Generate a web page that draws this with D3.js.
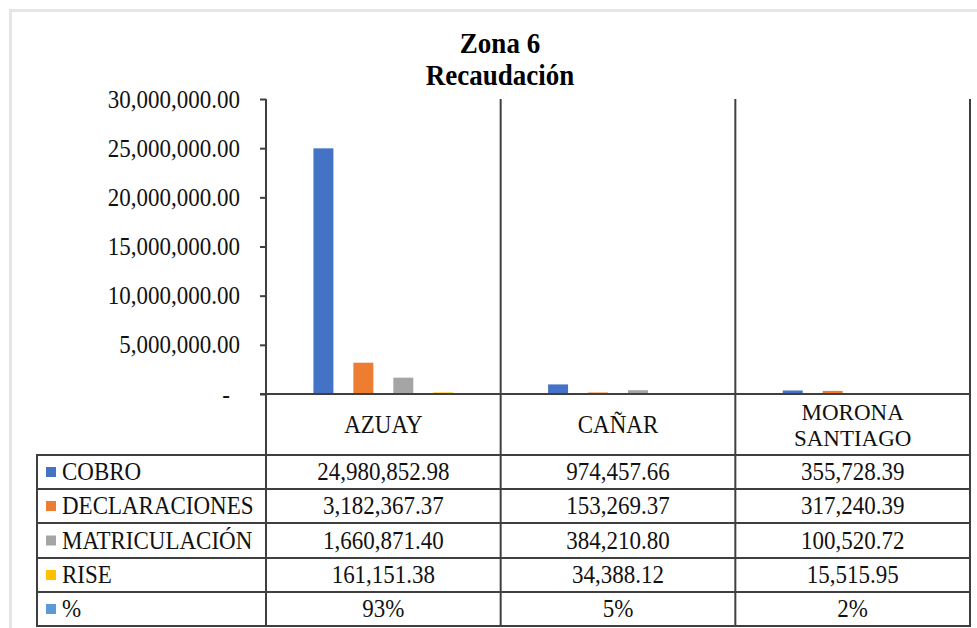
<!DOCTYPE html>
<html>
<head>
<meta charset="utf-8">
<script src="https://cdnjs.cloudflare.com/ajax/libs/d3/7.8.5/d3.min.js"></script>
<style>
	body{ margin:0; background:#fff; }
</style>
</head>
<body>
<svg id="chart" width="977" height="628"></svg>
<script>
//datos
var provincias = ["AZUAY", "CAÑAR", "MORONA SANTIAGO"];
var series = ["COBRO", "DECLARACIONES", "MATRICULACIÓN", "RISE"];
var cobro = [24980852.98, 974457.66, 355728.39];
var declaraciones = [3182367.37, 153269.37, 317240.39];
var matriculacion = [1660871.40, 384210.80, 100520.72];
var rise = [161151.38, 34388.12, 15515.95];
var porcentaje = [0.93, 0.05, 0.02];
var yTicks = [0, 5000000, 10000000, 15000000, 20000000, 25000000, 30000000];
var colores = ["#4472C4", "#ED7D31", "#A5A5A5", "#FFC000", "#5B9BD5"];

var valores = [cobro, declaraciones, matriculacion, rise];

var fuente = "'Liberation Serif'";
var estirar = 1.1;	//el texto original sale un poco alto

var s = d3.select("#chart");

//marco
var padding = {top:99, right:970, bottom:394, left:266};
var tableLeft = 37;
var rowLines = [455, 489, 523, 558, 592, 626];
var lineColor = "#3f3f3f";

function texto(x, y, str, size, anchor, weight, sy){
	return s.append("text")
		.attr("transform", "translate(" + x + "," + y + ") scale(1," + (sy || estirar) + ")")
		.style("font-family", fuente)
		.style("font-size", size + "px")
		.style("font-weight", weight || "normal")
		.style("text-anchor", anchor || "start")
		.attr("fill", "#111")
		.text(str);
}

s.append("rect")
	.attr("x", 10.5).attr("y", 10.5)
	.attr("width", 1000).attr("height", 700)
	.attr("fill", "none")
	.attr("stroke", "#e6e6e6")
	.attr("stroke-width", 3);

//titulo
texto(500, 53, "Zona 6", 27, "middle", "bold").attr("fill", "#000");
texto(500, 85, "Recaudación", 27, "middle", "bold").attr("fill", "#000");

//escalas
var x = d3.scaleBand()
	.domain(provincias)
	.range([padding.left, padding.right]);
var xs = d3.scaleBand()
	.domain(series)
	.range([0, x.bandwidth()])
	.paddingInner(0.5)
	.paddingOuter(1.1875);
var y = d3.scaleLinear()
	.domain([0, 30000000])
	.range([padding.bottom, padding.top]);

//eje y
var fmt = d3.format(",.2f");
var yAxis = d3.axisLeft(y)
	.tickValues(yTicks)
	.tickSize(6)
	.tickPadding(20)
	.tickFormat(function(d){
		if(d==0)
			return "-";
		return fmt(d);
	});
var gy = s.append("g")
	.attr("transform", "translate(" + padding.left + ",0)")
	.call(yAxis);
gy.attr("font-family", null).attr("font-size", null);
gy.select(".domain").remove();
gy.selectAll(".tick line")
	.attr("stroke", lineColor)
	.attr("stroke-width", 2);
gy.selectAll(".tick text")
	.attr("fill", "#111")
	.attr("transform", "scale(1," + estirar + ")")
	.style("font-size", "23px")
	.style("font-family", fuente);
//el cero va como guion, algo mas a la izquierda
gy.selectAll(".tick text")
	.filter(function(d){ return d==0; })
	.attr("x", -36);

//barras
var grupos = s.selectAll("g.serie")
	.data(valores)
	.enter()
	.append("g")
	.attr("class", "serie")
	.attr("fill", function(d,i){
		return colores[i];
	});
grupos.each(function(vals, si){
	d3.select(this).selectAll("rect")
		.data(vals)
		.enter()
		.append("rect")
		.attr("x", function(d,i){
			return x(provincias[i]) + xs(series[si]);
		})
		.attr("y", function(d){
			return y(d);
		})
		.attr("width", xs.bandwidth())
		.attr("height", function(d){
			return y(0) - y(d);
		});
});

//lineas de categorias
s.append("line")
	.attr("x1", padding.left).attr("x2", padding.left)
	.attr("y1", padding.top).attr("y2", rowLines[rowLines.length-1])
	.attr("stroke", lineColor).attr("stroke-width", 2);
provincias.forEach(function(p){
	s.append("line")
		.attr("x1", x(p) + x.bandwidth()).attr("x2", x(p) + x.bandwidth())
		.attr("y1", padding.top).attr("y2", rowLines[rowLines.length-1])
		.attr("stroke", lineColor).attr("stroke-width", 2);
});
s.append("line")
	.attr("x1", padding.left - 6).attr("x2", padding.right)
	.attr("y1", y(0)).attr("y2", y(0))
	.attr("stroke", lineColor).attr("stroke-width", 2);

//tabla
s.append("line")
	.attr("x1", tableLeft).attr("x2", tableLeft)
	.attr("y1", rowLines[0]).attr("y2", rowLines[rowLines.length-1])
	.attr("stroke", lineColor).attr("stroke-width", 2);
rowLines.forEach(function(ly){
	s.append("line")
		.attr("x1", tableLeft - 1).attr("x2", padding.right + 1)
		.attr("y1", ly).attr("y2", ly)
		.attr("stroke", lineColor).attr("stroke-width", 2);
});

//encabezados
provincias.forEach(function(p){
	var palabras = p.split(" ");
	var cy = (y(0) + rowLines[0]) / 2;
	var cx = x(p) + x.bandwidth()/2;
	palabras.forEach(function(w, i){
		if(palabras.length > 1)
			texto(cx, cy + 8 - 13 + i*26, w, 23, "middle", "normal", 1);
		else
			texto(cx, cy + 8, w, 23, "middle");
	});
});

//filas
var filas = valores.concat([porcentaje]);
var nombres = series.concat(["%"]);
filas.forEach(function(vals, ri){
	var cy = (rowLines[ri] + rowLines[ri+1]) / 2;
	s.append("rect")
		.attr("x", 46).attr("y", cy - 5)
		.attr("width", 10).attr("height", 10)
		.attr("fill", colores[ri]);
	texto(62, cy + 8, nombres[ri], 23);
	vals.forEach(function(d, i){
		texto(x(provincias[i]) + x.bandwidth()/2, cy + 8,
			ri==4 ? d3.format(".0%")(d) : fmt(d), 23, "middle");
	});
});
</script>
</body>
</html>
